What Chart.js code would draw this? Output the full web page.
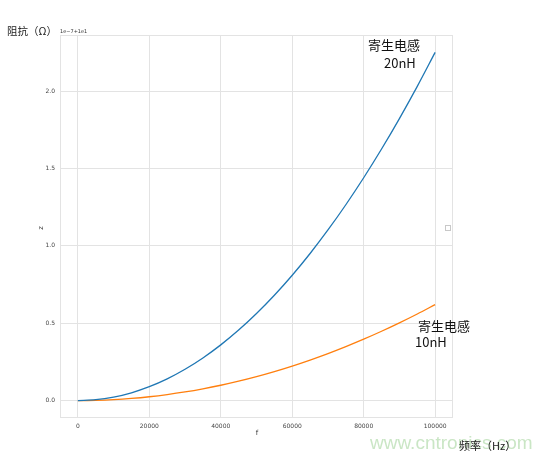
<!DOCTYPE html>
<html><head><meta charset="utf-8">
<script src="https://cdn.jsdelivr.net/npm/chart.js@4/dist/chart.umd.min.js"></script>
<style>html,body{margin:0;padding:0;background:#fff}#wrap{width:554px;height:459px;position:relative}</style>
</head><body><div id="wrap"><canvas id="c" width="554" height="459"></canvas></div>
<script>
const freqs = [0,5000,10000,15000,20000,25000,30000,35000,40000,45000,50000,55000,60000,65000,70000,75000,80000,85000,90000,95000,100000];
const z20nH = [0,0.0056,0.0225,0.0506,0.09,0.1406,0.2025,0.2756,0.36,0.4556,0.5625,0.6806,0.81,0.9506,1.1025,1.2656,1.44,1.6256,1.8225,2.0306,2.25];
const z10nH = [0,0.0016,0.0062,0.014,0.0248,0.0388,0.0558,0.076,0.0992,0.1256,0.155,0.1876,0.2232,0.262,0.3038,0.3488,0.3968,0.448,0.5022,0.5596,0.62];
const xTicks = [0,20000,40000,60000,80000,100000];
const yTicks = [0,0.5,1.0,1.5,2.0];

const textPlugin = {
  id:'texts',
  afterDraw(chart){
    const c = chart.ctx, a = chart.chartArea;
    c.save();
    c.strokeStyle='#e3e3e3'; c.lineWidth=1;
    c.strokeRect(a.left+0.5,a.top+0.5,a.right-a.left-1,a.bottom-a.top-1);
    c.fillStyle='#222';
    c.font='10.5px "Noto Sans CJK SC"'; c.textBaseline='middle'; c.textAlign='left';
    c.fillText('阻抗（Ω）',7,31);
    c.fillStyle='#333';
    c.font='5px "DejaVu Sans"';
    c.fillText('1e−7+1e1',60,32);
    c.font='7px "DejaVu Sans"'; c.fillStyle='#333';
    c.textAlign='center';
    c.fillText('f',257,433);
    c.save(); c.translate(41,228); c.rotate(-Math.PI/2); c.fillText('z',0,0); c.restore();
    c.fillStyle='#111';
    c.font='13px "Noto Sans CJK SC"'; c.textAlign='left';
    c.fillText('寄生电感',368,45);
    c.fillText('20nH',384,63);
    c.fillText('寄生电感',418,326);
    c.fillText('10nH',415,342);
    c.strokeStyle='#c8c8c8'; c.lineWidth=1;
    c.strokeRect(445.5,225.5,5,5);
    c.fillStyle='rgba(150,205,140,0.5)';
    c.font='19px "Liberation Sans"';
    c.fillText('www.cntronics.com',370,444);
    c.fillStyle='#222';
    c.font='11px "Noto Sans CJK SC"';
    c.fillText('频率（Hz）',459,446);
    c.restore();
  }
};

new Chart(document.getElementById('c'),{
  type:'line',
  data:{
    labels:freqs,
    datasets:[
      {data:freqs.map((f,i)=>({x:f,y:z20nH[i]})),borderColor:'#1f77b4',borderWidth:1.3,pointRadius:0,cubicInterpolationMode:'monotone',fill:false},
      {data:freqs.map((f,i)=>({x:f,y:z10nH[i]})),borderColor:'#ff7f0e',borderWidth:1.3,pointRadius:0,cubicInterpolationMode:'monotone',fill:false}
    ]
  },
  options:{
    responsive:false,animation:false,
    layout:{padding:{left:0,right:101,top:35,bottom:0}},
    plugins:{legend:{display:false},tooltip:{enabled:false}},
    scales:{
      x:{type:'linear',min:-5000,max:105000,
        afterBuildTicks(s){s.ticks=xTicks.map(v=>({value:v}));},
        afterFit(s){s.height=41;},
        grid:{color:'#e3e3e3',drawTicks:false},
        border:{display:false},
        ticks:{padding:5,color:'#444',font:{family:'DejaVu Sans',size:6},maxRotation:0,callback:v=>String(v)}
      },
      y:{type:'linear',min:-0.1125,max:2.3625,
        afterBuildTicks(s){s.ticks=yTicks.map(v=>({value:v}));},
        afterFit(s){s.width=60;},
        grid:{color:'#e3e3e3',drawTicks:false},
        border:{display:false},
        ticks:{padding:5,color:'#444',font:{family:'DejaVu Sans',size:6},callback:v=>v.toFixed(1)}
      }
    }
  },
  plugins:[textPlugin]
});
</script></body></html>
